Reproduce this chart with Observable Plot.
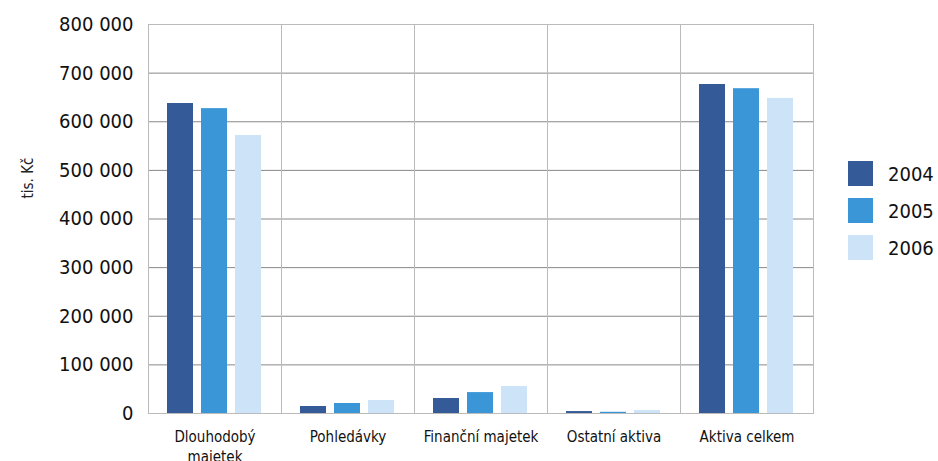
<!DOCTYPE html>
<html>
<head>
<meta charset="utf-8">
<script src="https://cdn.jsdelivr.net/npm/d3@7"></script>
<script src="https://cdn.jsdelivr.net/npm/@observablehq/plot@0.6"></script>
<style>
  body { margin: 0; background: white; }
  #wrap { position: relative; width: 938px; height: 461px; font-family: "DejaVu Sans Condensed", "DejaVu Sans", sans-serif; }
  #ylabel { position: absolute; left: 28px; top: 178px; transform: translate(-50%, -50%) rotate(-90deg); font-size: 15px; color: #222; white-space: nowrap; }
  #legend { position: absolute; left: 848px; top: 161px; }
  .item { display: flex; align-items: center; height: 25px; margin-bottom: 12px; font-size: 20px; color: #111; }
  .sw { width: 25px; height: 25px; margin-right: 15px; }
</style>
</head>
<body>
<div id="wrap"><div id="ylabel">tis. Kč</div><div id="legend"></div></div>
<script>
const categories = ["Dlouhodobý majetek", "Pohledávky", "Finanční majetek", "Ostatní aktiva", "Aktiva celkem"];
const years = ["2004", "2005", "2006"];
const v2004 = [637500, 14400, 30800, 4000, 676600];
const v2005 = [627000, 20600, 43000, 2500, 668000];
const v2006 = [571700, 26700, 55500, 6000, 648000];
const yTicks = [0, 100000, 200000, 300000, 400000, 500000, 600000, 700000, 800000];
const colors = ["#345a97", "#3b96d8", "#cde3f7"];

const series = [v2004, v2005, v2006];
const data = categories.flatMap((c, i) => years.map((y, j) => ({category: c, year: y, value: series[j][i]})));

const fmt = d3.formatLocale({decimal: ",", thousands: "\u00a0", grouping: [3], currency: ["", ""]}).format(",d");
const catLabel = d => d === "Dlouhodobý majetek" ? "Dlouhodobý\nmajetek" : d;

const chart = Plot.plot({
  width: 938, height: 461,
  marginLeft: 147, marginRight: 125, marginTop: 24, marginBottom: 48,
  style: {fontFamily: "'DejaVu Sans Condensed', 'DejaVu Sans', sans-serif", background: "transparent", color: "#111"},
  fx: {domain: categories, padding: 0, label: null},
  x: {domain: years, paddingInner: 0.235, paddingOuter: 0.56, axis: null},
  y: {domain: [0, 800000], label: null},
  color: {domain: years, range: colors},
  marks: [
    Plot.ruleY(yTicks.slice(1, -1), {stroke: "#888", strokeOpacity: 1}),
    Plot.barY(data, {fx: "category", x: "year", y: "value", fill: "year"}),
    Plot.frame({stroke: "#bbb", strokeOpacity: 1}),
    Plot.axisY({ticks: yTicks, tickSize: 0, tickPadding: 15, tickFormat: fmt, fontSize: 20, label: null}),
    Plot.axisFx({anchor: "bottom", tickSize: 0, tickPadding: 15, fontSize: 15, lineHeight: 1.3, label: null, tickFormat: catLabel})
  ]
});
const wrap = document.getElementById("wrap");
wrap.insertBefore(chart, wrap.firstChild);

const legend = document.getElementById("legend");
years.forEach((y, i) => {
  const it = document.createElement("div");
  it.className = "item";
  it.innerHTML = `<div class="sw" style="background:${colors[i]}"></div><span>${y}</span>`;
  legend.appendChild(it);
});
</script>
</body>
</html>
